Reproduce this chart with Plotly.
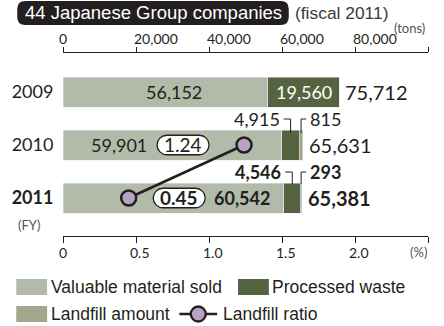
import plotly.graph_objects as go

# ---------------- data ----------------
years = ["2009", "2010", "2011"]
year_labels = ["2009", "2010", "<b>2011</b>"]
valuable_sold = [56152, 59901, 60542]
processed_waste = [19560, 4915, 4546]
landfill_amount = [0, 815, 293]
totals = [75712, 65631, 65381]
ratio_years = ["2010", "2011"]
landfill_ratio = [1.24, 0.45]
tons_ticks = [0, 20000, 40000, 60000, 80000, 100000]
tons_ticktext = ["0", "20,000", "40,000", "60,000", "80,000", ""]
pct_ticks = [0, 0.5, 1.0, 1.5, 2.0, 2.5]
pct_ticktext = ["0", "0.5", "1.0", "1.5", "2.0", ""]

C_SOLD = "#b2bba9"
C_PROC = "#556340"
C_LAND = "#a5a68e"
C_RATIO = "#b8a4c2"
INK = "#231f20"
GREY = "#555555"
NUM = "Lato, 'Open Sans', sans-serif"
SANS = "'Liberation Sans', Arial, sans-serif"

W, H = 444, 326
L, R, T, B = 61, 16, 53, 90
PW, PH = W - L - R, H - T - B


def XP(px):
    return (px - L) / PW


def YP(py):
    return (H - B - py) / PH


def fmt(v):
    return f"{v:,}"


fig = go.Figure()
fig.add_trace(go.Bar(y=years, x=valuable_sold, orientation="h", marker_color=C_SOLD,
                     width=0.566, name="Valuable material sold", hoverinfo="x"))
fig.add_trace(go.Bar(y=years, x=processed_waste, orientation="h", marker_color=C_PROC,
                     width=0.566, name="Processed waste", hoverinfo="x"))
fig.add_trace(go.Bar(y=years, x=landfill_amount, orientation="h", marker_color=C_LAND,
                     width=0.566, name="Landfill amount", hoverinfo="x"))
fig.add_trace(go.Scatter(y=ratio_years, x=landfill_ratio, xaxis="x2", mode="lines+markers",
                         line=dict(color=INK, width=2.5),
                         marker=dict(size=15, color=C_RATIO, line=dict(color=INK, width=2.5)),
                         name="Landfill ratio"))

ann = []
shapes = []


def A(**kw):
    kw.setdefault("showarrow", False)
    kw.setdefault("yanchor", "middle")
    kw.setdefault("xanchor", "center")
    ann.append(kw)


# top axis labels
for v, t in zip(tons_ticks, tons_ticktext):
    if not t:
        continue
    A(x=v, xref="x", y=YP(39), yref="paper", text=t,
      xanchor="center" if v == 0 else "left", xshift=0 if v == 0 else -4,
      font=dict(family=NUM, size=14, color=INK))
A(x=XP(392), y=YP(28), xref="paper", yref="paper", text="(tons)", xanchor="left",
  font=dict(family=NUM, size=13, color=GREY))

# bottom axis labels
for v, t in zip(pct_ticks, pct_ticktext):
    if not t:
        continue
    A(x=v, xref="x2", y=YP(252), yref="paper", text=t, xshift=0 if v == 0 else 4,
      font=dict(family=NUM, size=14, color=INK))
A(x=XP(418), y=YP(252), xref="paper", yref="paper", text="(%)",
  font=dict(family=NUM, size=13, color=GREY))
A(x=XP(14), y=YP(225), xref="paper", yref="paper", text="(FY)", xanchor="left",
  font=dict(family=NUM, size=13, color=GREY))

# value labels
sold_label_x = [30500, 15300, 49100]
for i, y in enumerate(years):
    bold = y == "2011"
    wrap = (lambda s: f"<b>{s}</b>") if bold else (lambda s: s)
    A(x=sold_label_x[i], xref="x", y=i, yref="y", text=wrap(fmt(valuable_sold[i])),
      font=dict(family=NUM, size=18, color=INK))
    A(x=totals[i], xref="x", y=i, yref="y", text=wrap(fmt(totals[i])),
      xanchor="left", xshift=4, font=dict(family=NUM, size=20, color=INK))
    if landfill_amount[i] == 0:
        A(x=valuable_sold[i] + processed_waste[i] / 2, xref="x", y=i, yref="y",
          text=fmt(processed_waste[i]), font=dict(family=NUM, size=18, color="white"))
    else:
        px_c = valuable_sold[i] + processed_waste[i] / 2
        lf_c = valuable_sold[i] + processed_waste[i] + landfill_amount[i] / 2
        bot = 12 if y == "2010" else 14
        A(x=px_c, xref="x", y=i, yref="y", text=wrap(fmt(processed_waste[i])),
          xanchor="right", xshift=-9, yshift=26, font=dict(family=NUM, size=18, color=INK))
        A(x=lf_c, xref="x", y=i, yref="y", text=wrap(fmt(landfill_amount[i])),
          xanchor="left", xshift=7, yshift=26, font=dict(family=NUM, size=18, color=INK))
        shapes.append(dict(type="path", xref="x", yref="y", xsizemode="pixel", ysizemode="pixel",
                           xanchor=px_c, yanchor=i, layer="above",
                           path=f"M -7,26 L 0,26 L 0,{bot}", line=dict(color=INK, width=1)))
        shapes.append(dict(type="path", xref="x", yref="y", xsizemode="pixel", ysizemode="pixel",
                           xanchor=lf_c, yanchor=i, layer="above",
                           path=f"M 0,{bot} L 0,26 L 5,26", line=dict(color=INK, width=1)))


def pill_path(cx, cy, w, h, r):
    x0, x1 = cx - w / 2, cx + w / 2
    y0, y1 = cy - h / 2, cy + h / 2
    k = r * 0.45
    return (f"M {x0 + r},{y0} L {x1 - r},{y0} C {x1 - k},{y0} {x1},{y0 + k} {x1},{y0 + r} "
            f"L {x1},{y1 - r} C {x1},{y1 - k} {x1 - k},{y1} {x1 - r},{y1} "
            f"L {x0 + r},{y1} C {x0 + k},{y1} {x0},{y1 - k} {x0},{y1 - r} "
            f"L {x0},{y0 + r} C {x0},{y0 + k} {x0 + k},{y0} {x0 + r},{y0} Z")


# ratio labels in pills
ratio_shift = [-61, 50.5]
for k, (y, v) in enumerate(zip(ratio_years, landfill_ratio)):
    yi = years.index(y)
    dx = ratio_shift[k]
    shapes.append(dict(type="path", xref="x2", yref="y", xsizemode="pixel", ysizemode="pixel",
                       xanchor=v, yanchor=yi, layer="above",
                       path=pill_path(dx, 0, 52, 19.5, 9.75),
                       fillcolor="white", line=dict(color=INK, width=1.3)))
    txt = f"{v:.2f}"
    if y == "2011":
        txt = f"<b>{txt}</b>"
    A(x=v, xref="x2", y=yi, yref="y", text=txt, xshift=dx, yshift=0.5,
      font=dict(family=NUM, size=19, color=INK))


# title pill (pixel -> paper)
def rrect_paper(x0, y0, x1, y1, r):
    def P(px, py):
        return f"{XP(px):.5f},{YP(py):.5f}"
    return (f"M {P(x0 + r, y0)} L {P(x1 - r, y0)} Q {P(x1, y0)} {P(x1, y0 + r)} "
            f"L {P(x1, y1 - r)} Q {P(x1, y1)} {P(x1 - r, y1)} L {P(x0 + r, y1)} "
            f"Q {P(x0, y1)} {P(x0, y1 - r)} L {P(x0, y0 + r)} Q {P(x0, y0)} {P(x0 + r, y0)} Z")


shapes.append(dict(type="path", xref="paper", yref="paper", path=rrect_paper(15, 1, 288, 25, 8),
                   fillcolor="#231f20", line=dict(width=0)))
A(x=XP(21), y=YP(13), xref="paper", yref="paper", xanchor="left",
  text="44 Japanese Group companies", font=dict(family=SANS, size=18.5, color="white"))
A(x=XP(292), y=YP(13), xref="paper", yref="paper", xanchor="left",
  text="(fiscal 2011)", font=dict(family=SANS, size=17.4, color="#3a3a3a"))


# custom legend
def swatch(x0, y0, x1, y1, color):
    shapes.append(dict(type="rect", xref="paper", yref="paper", x0=XP(x0), x1=XP(x1),
                       y0=YP(y1), y1=YP(y0), fillcolor=color, line=dict(width=0)))


def legtext(x, y, t):
    A(x=XP(x), y=YP(y), xref="paper", yref="paper", xanchor="left", text=t,
      font=dict(family=SANS, size=17.5, color=INK))


swatch(14, 279, 45, 295, C_SOLD)
legtext(47, 287, "Valuable material sold")
swatch(237, 279, 268, 295, C_PROC)
legtext(269, 287, "Processed waste")
swatch(14, 306, 45, 322, C_LAND)
legtext(47, 314, "Landfill amount")
shapes.append(dict(type="line", xref="paper", yref="paper", x0=XP(178), x1=XP(216),
                   y0=YP(314), y1=YP(314), line=dict(color=INK, width=2.5)))
shapes.append(dict(type="circle", xref="paper", yref="paper", xsizemode="pixel", ysizemode="pixel",
                   xanchor=XP(197), yanchor=YP(314), x0=-7.5, x1=7.5, y0=-7.5, y1=7.5,
                   fillcolor=C_RATIO, line=dict(color=INK, width=2.3)))
legtext(220, 314, "Landfill ratio")

fig.update_layout(
    width=W, height=H, margin=dict(l=L, r=R, t=T, b=B),
    paper_bgcolor="white", plot_bgcolor="white",
    barmode="stack", showlegend=False,
    xaxis=dict(side="top", range=[0, 100000], tickvals=tons_ticks, showticklabels=False,
               ticks="outside", ticklen=5, tickcolor=INK, tickwidth=1.2,
               showline=True, linecolor=INK, linewidth=1.2, showgrid=False, zeroline=False,
               fixedrange=True),
    xaxis2=dict(overlaying="x", side="bottom", range=[0, 2.5], tickvals=pct_ticks,
                showticklabels=False, ticks="outside", ticklen=6, tickcolor=INK, tickwidth=1.2,
                showline=True, linecolor=INK, linewidth=1.2, showgrid=False, zeroline=False,
                fixedrange=True),
    yaxis=dict(type="category", categoryorder="array", categoryarray=years,
               range=[2.717, -0.736], tickvals=years, ticktext=year_labels,
               ticks="outside", ticklen=5, tickcolor="rgba(0,0,0,0)",
               tickfont=dict(family=NUM, size=18, color=INK),
               showgrid=False, zeroline=False, showline=False, fixedrange=True),
    annotations=ann, shapes=shapes,
)

fig.write_html("out.html", config={"displayModeBar": False})
